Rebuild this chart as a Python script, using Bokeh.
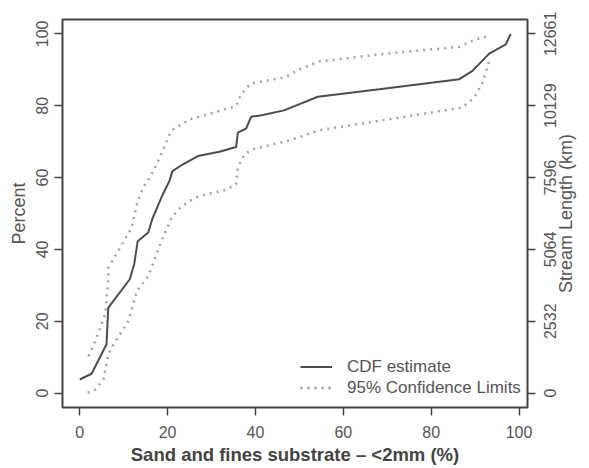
import math
from bokeh.plotting import figure
from bokeh.models import Range1d, LinearAxis, FixedTicker, Legend, LegendItem
from bokeh.embed import file_html
from bokeh.resources import INLINE

# ---- data ----
cdf_x = [0, 2.7, 6.1, 6.5, 11.4, 12.4, 13.2, 15.6, 16.5, 17.4, 18.9, 20.4, 21.1, 23.5, 26.9,
         31.8, 35.6, 36.0, 37.9, 39.0, 41.7, 46.5, 54.2, 68.2, 86.4, 89.4, 93.2, 97.0, 98.1]
cdf_y = [3.8, 5.4, 13.6, 23.8, 31.7, 35.9, 42.3, 44.7, 48.4, 51.0, 55.3, 59.0, 61.8, 63.7, 66.0,
         67.2, 68.5, 72.5, 73.7, 76.9, 77.4, 78.7, 82.5, 84.6, 87.4, 89.7, 94.5, 97.1, 100.0]

upper_x = [2.0, 3.5, 5.8, 6.5, 6.5, 9.2, 11.8, 13.0, 14.4, 16.2, 18.2, 20.8, 25.0, 30.3,
           35.6, 36.7, 39.0, 47.0, 49.2, 54.5, 68.2, 86.4, 90.2, 93.2]
upper_y = [10.3, 14.5, 22.0, 31.2, 34.9, 40.5, 46.0, 52.5, 57.2, 60.5, 65.5, 73.0, 76.2, 78.0,
           79.9, 83.2, 86.2, 88.0, 89.7, 92.3, 94.3, 96.4, 98.5, 99.4]

lower_x = [1.8, 3.5, 5.4, 6.5, 7.7, 11.1, 13.0, 15.6, 18.6, 20.9, 22.3, 25.0, 27.3, 32.6,
           35.6, 36.0, 37.5, 39.4, 47.3, 50.8, 54.5, 68.2, 87.1, 89.8, 91.7, 93.2]
lower_y = [0.1, 1.0, 3.8, 10.8, 13.6, 20.1, 28.4, 32.6, 42.3, 48.8, 51.0, 53.5, 54.9, 56.3,
           58.1, 62.8, 66.5, 67.9, 70.2, 71.6, 73.2, 75.8, 79.5, 82.3, 86.4, 92.5]

x_ticks = [0, 20, 40, 60, 80, 100]
y_ticks = [0, 20, 40, 60, 80, 100]
right_tick_labels = ["0", "2532", "5064", "7596", "10129", "12661"]
right_title = "Stream Length (km)"

FONT = "Liberation Sans"
TXT = "#555555"
W, H = 589, 468
ML, MR, MT, MB = 62, 61, 19, 61
Y0, Y1 = -4, 104
PPU = (H - MT - MB) / (Y1 - Y0)          # screen px per y unit

# Liberation Sans advance widths (em) for the glyphs used in rotated right-side texts
ADV = {c: 0.556 for c in "0123456789aegnhe"}
ADV.update({"S": 0.667, "t": 0.278, "r": 0.333, "m": 0.833, " ": 0.278, "L": 0.556,
            "(": 0.333, ")": 0.333, "k": 0.5})


def text_w(s, size):
    return sum(ADV.get(c, 0.556) for c in s) * size


p = figure(width=W, height=H, output_backend="svg", toolbar_location=None,
           x_range=Range1d(-3.92, 101.92), y_range=Range1d(Y0, Y1),
           min_border_left=ML, min_border_right=MR, min_border_top=MT, min_border_bottom=MB,
           x_axis_label="Sand and fines substrate \u2013 <2mm (%)", y_axis_label="Percent")
p.background_fill_color = "white"
p.border_fill_color = "white"
p.grid.visible = False
p.outline_line_color = "#444444"
p.outline_line_width = 2

r_cdf = p.line(cdf_x, cdf_y, line_color="#4d4d4d", line_width=2)
r_up = p.line(upper_x, upper_y, line_color="#a3a3a3", line_width=2.5, line_dash="2 5")
r_lo = p.line(lower_x, lower_y, line_color="#a3a3a3", line_width=2.5, line_dash="2 5")


def style(ax):
    ax.axis_line_color = None
    ax.major_tick_line_color = "#444444"
    ax.major_tick_line_width = 1.5
    ax.major_tick_out = 8
    ax.major_tick_in = 0
    ax.minor_tick_line_color = None
    ax.major_label_text_font = FONT
    ax.major_label_text_font_size = "16px"
    ax.major_label_text_color = TXT
    ax.axis_label_text_font = FONT
    ax.axis_label_text_font_style = "normal"
    ax.axis_label_text_font_size = "18px"
    ax.axis_label_text_color = TXT


# bottom axis
xa = p.xaxis[0]
style(xa)
xa.ticker = FixedTicker(ticks=x_ticks)
xa.major_label_standoff = 10
xa.axis_label_standoff = 3
xa.axis_label_text_font_style = "bold"
xa.axis_label_text_font_size = "18.5px"
xa.axis_label_text_color = "#444444"

# left axis
ya = p.yaxis[0]
style(ya)
ya.ticker = FixedTicker(ticks=y_ticks)
ya.major_label_orientation = "vertical"
ya.major_label_standoff = 6
ya.axis_label_standoff = 5

# right axis: tick marks at the real positions (minor ticks), labels read bottom-to-top,
# anchored so that each label is centred on its tick
shifted = [round(t - text_w(s, 16) / 2 / PPU, 3) for t, s in zip(y_ticks, right_tick_labels)]
ra = LinearAxis()
style(ra)
ra.ticker = FixedTicker(ticks=shifted, minor_ticks=y_ticks)
ra.major_tick_line_color = None
ra.minor_tick_line_color = "#444444"
ra.minor_tick_line_width = 1.5
ra.minor_tick_out = 8
ra.minor_tick_in = 0
ra.major_label_orientation = math.pi / 2
ra.major_label_standoff = 15
ra.major_label_overrides = {s: lab for s, lab in zip(shifted, right_tick_labels)}
p.add_layout(ra, "right")

# right axis title, drawn the same way (centred on the middle of the axis)
tpos = round((Y0 + Y1) / 2 - text_w(right_title, 18) / 2 / PPU, 3)
rt = LinearAxis()
style(rt)
rt.ticker = FixedTicker(ticks=[tpos], minor_ticks=[])
rt.major_tick_line_color = None
rt.major_tick_out = 0
rt.major_label_orientation = math.pi / 2
rt.major_label_standoff = 1
rt.major_label_text_font_size = "18px"
rt.major_label_overrides = {tpos: right_title}
p.add_layout(rt, "right")

legend = Legend(items=[LegendItem(label="CDF estimate", renderers=[r_cdf]),
                       LegendItem(label="95% Confidence Limits", renderers=[r_up, r_lo])],
                location=(238, 9))
legend.border_line_color = None
legend.background_fill_alpha = 0
legend.padding = 0
legend.margin = 0
legend.spacing = 0
legend.glyph_width = 32
legend.glyph_height = 21
legend.label_height = 21
legend.label_standoff = 15
legend.label_text_font = FONT
legend.label_text_font_size = "17px"
legend.label_text_color = TXT
p.add_layout(legend, "center")

open("out.html", "w").write(file_html(p, INLINE))
